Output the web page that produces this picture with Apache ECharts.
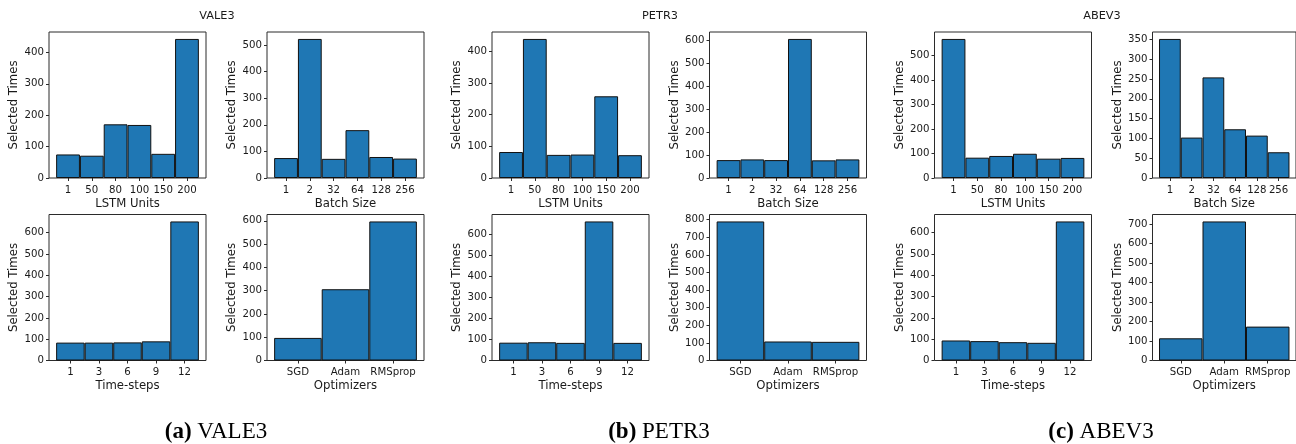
<!DOCTYPE html>
<html>
<head>
<meta charset="utf-8">
<script src="https://cdn.jsdelivr.net/npm/echarts@6/dist/echarts.min.js"></script>
<style>
html,body{margin:0;padding:0;background:#fff;}
#chart{width:1296px;height:444px;}
</style>
</head>
<body>
<div id="chart"></div>
<script>
// ---- categories ----
const lstmCats  = ['1','50','80','100','150','200'];
const batchCats = ['1','2','32','64','128','256'];
const stepCats  = ['1','3','6','9','12'];
const optCats   = ['SGD','Adam','RMSprop'];

// ---- series values (Selected Times) ----
const vale3Lstm  = [75, 71, 171, 169, 77, 443];
const vale3Batch = [75, 523, 72, 180, 79, 73];
const vale3Steps = [84, 84, 85, 90, 653];
const vale3Opt   = [97, 306, 597];

const petr3Lstm  = [82, 439, 73, 74, 258, 72];
const petr3Batch = [78, 81, 78, 606, 77, 81];
const petr3Steps = [85, 87, 84, 663, 84];
const petr3Opt   = [790, 108, 106];

const abev3Lstm  = [568, 83, 90, 99, 79, 82];
const abev3Batch = [351, 102, 254, 123, 107, 65];
const abev3Steps = [94, 91, 86, 83, 653];
const abev3Opt   = [114, 714, 174];

// ---- y tick labels ----
const vale3LstmTicks  = [0,100,200,300,400];
const vale3BatchTicks = [0,100,200,300,400,500];
const vale3StepsTicks = [0,100,200,300,400,500,600];
const vale3OptTicks   = [0,100,200,300,400,500,600];
const petr3LstmTicks  = [0,100,200,300,400];
const petr3BatchTicks = [0,100,200,300,400,500,600];
const petr3StepsTicks = [0,100,200,300,400,500,600];
const petr3OptTicks   = [0,100,200,300,400,500,600,700,800];
const abev3LstmTicks  = [0,100,200,300,400,500];
const abev3BatchTicks = [0,50,100,150,200,250,300,350];
const abev3StepsTicks = [0,100,200,300,400,500,600];
const abev3OptTicks   = [0,100,200,300,400,500,600,700];

// ---- axis titles / group titles ----
const yTitle = 'Selected Times';
const lstmTitle = 'LSTM Units', batchTitle = 'Batch Size', stepTitle = 'Time-steps', optTitle = 'Optimizers';
const groupNames = ['VALE3', 'PETR3', 'ABEV3'];
const captionTags = ['(a)', '(b)', '(c)'];

// ---- layout ----
const FRAME_W = 157, FRAME_H = 146;
const ROW_TOP = [32, 214.5];
const COL_LEFT = [49, 267, 492, 709.5, 934.5, 1152.5];
const GROUP_CX = [217, 660, 1102];

const panels = [
  {cats: lstmCats,  vals: vale3Lstm,  ticks: vale3LstmTicks,  xt: lstmTitle,  col: 0, row: 0},
  {cats: batchCats, vals: vale3Batch, ticks: vale3BatchTicks, xt: batchTitle, col: 1, row: 0},
  {cats: stepCats,  vals: vale3Steps, ticks: vale3StepsTicks, xt: stepTitle,  col: 0, row: 1},
  {cats: optCats,   vals: vale3Opt,   ticks: vale3OptTicks,   xt: optTitle,   col: 1, row: 1},
  {cats: lstmCats,  vals: petr3Lstm,  ticks: petr3LstmTicks,  xt: lstmTitle,  col: 2, row: 0},
  {cats: batchCats, vals: petr3Batch, ticks: petr3BatchTicks, xt: batchTitle, col: 3, row: 0},
  {cats: stepCats,  vals: petr3Steps, ticks: petr3StepsTicks, xt: stepTitle,  col: 2, row: 1},
  {cats: optCats,   vals: petr3Opt,   ticks: petr3OptTicks,   xt: optTitle,   col: 3, row: 1},
  {cats: lstmCats,  vals: abev3Lstm,  ticks: abev3LstmTicks,  xt: lstmTitle,  col: 4, row: 0},
  {cats: batchCats, vals: abev3Batch, ticks: abev3BatchTicks, xt: batchTitle, col: 5, row: 0},
  {cats: stepCats,  vals: abev3Steps, ticks: abev3StepsTicks, xt: stepTitle,  col: 4, row: 1},
  {cats: optCats,   vals: abev3Opt,   ticks: abev3OptTicks,   xt: optTitle,   col: 5, row: 1}
];

const FONT = 'DejaVu Sans';
const TEXT = '#1a1a1a';
const SPINE = '#2b2b2b';

const grid = [], xAxis = [], yAxis = [], series = [];
panels.forEach((p, i) => {
  const n = p.cats.length;
  const pad = 0.05 * n;
  grid.push({
    left: COL_LEFT[p.col], top: ROW_TOP[p.row], width: FRAME_W, height: FRAME_H,
    show: true, borderColor: SPINE, borderWidth: 1, backgroundColor: 'transparent',
    containLabel: false
  });
  xAxis.push({
    type: 'value', gridIndex: i,
    min: -0.5 - pad, max: n - 0.5 + pad,
    splitLine: {show: false},
    axisLine: {show: false, onZero: false},
    axisTick: {show: true, length: 3, lineStyle: {color: SPINE}, customValues: p.cats.map((c, k) => k)},
    axisLabel: {
      show: true, margin: 7, color: TEXT, fontFamily: FONT, fontSize: 10.2,
      customValues: p.cats.map((c, k) => k),
      formatter: v => p.cats[Math.round(v)] ?? ''
    },
    name: p.xt, nameLocation: 'middle', nameGap: 19.5,
    nameTextStyle: {color: TEXT, fontFamily: FONT, fontSize: 11.7}
  });
  yAxis.push({
    type: 'value', gridIndex: i,
    min: 0, max: 1.05 * Math.max(...p.vals),
    splitLine: {show: false},
    axisLine: {show: false, onZero: false},
    axisTick: {show: true, length: 3, lineStyle: {color: SPINE}, customValues: p.ticks},
    axisLabel: {show: true, margin: 5, color: TEXT, fontFamily: FONT, fontSize: 10.2, customValues: p.ticks},
    name: yTitle, nameLocation: 'middle', nameGap: 29,
    nameTextStyle: {color: TEXT, fontFamily: FONT, fontSize: 11.7}
  });
  series.push({
    type: 'bar', xAxisIndex: i, yAxisIndex: i,
    data: p.vals.map((v, k) => [k, v]),
    barWidth: '100%',
    itemStyle: {color: '#1f77b4', borderColor: '#111', borderWidth: 1},
    emphasis: {disabled: true},
    silent: true
  });
});

const graphic = [];
groupNames.forEach((g, i) => {
  graphic.push({
    type: 'text', x: GROUP_CX[i], y: 16.5,
    style: {text: g, fontFamily: FONT, fontSize: 11.3, fill: TEXT, align: 'center', verticalAlign: 'middle'}
  });
  graphic.push({
    type: 'text', x: GROUP_CX[i] - 1, y: 432,
    style: {
      text: '{b|' + captionTags[i] + '} ' + g,
      fontFamily: 'Liberation Serif', fontSize: 23, fill: '#000',
      align: 'center', verticalAlign: 'middle',
      rich: {b: {fontFamily: 'Liberation Serif', fontSize: 23, fontWeight: 'bold', fill: '#000'}}
    }
  });
});

const chart = echarts.init(document.getElementById('chart'), null, {renderer: 'canvas'});
chart.setOption({
  animation: false,
  backgroundColor: '#fff',
  grid, xAxis, yAxis, series, graphic
});
</script>
</body>
</html>
